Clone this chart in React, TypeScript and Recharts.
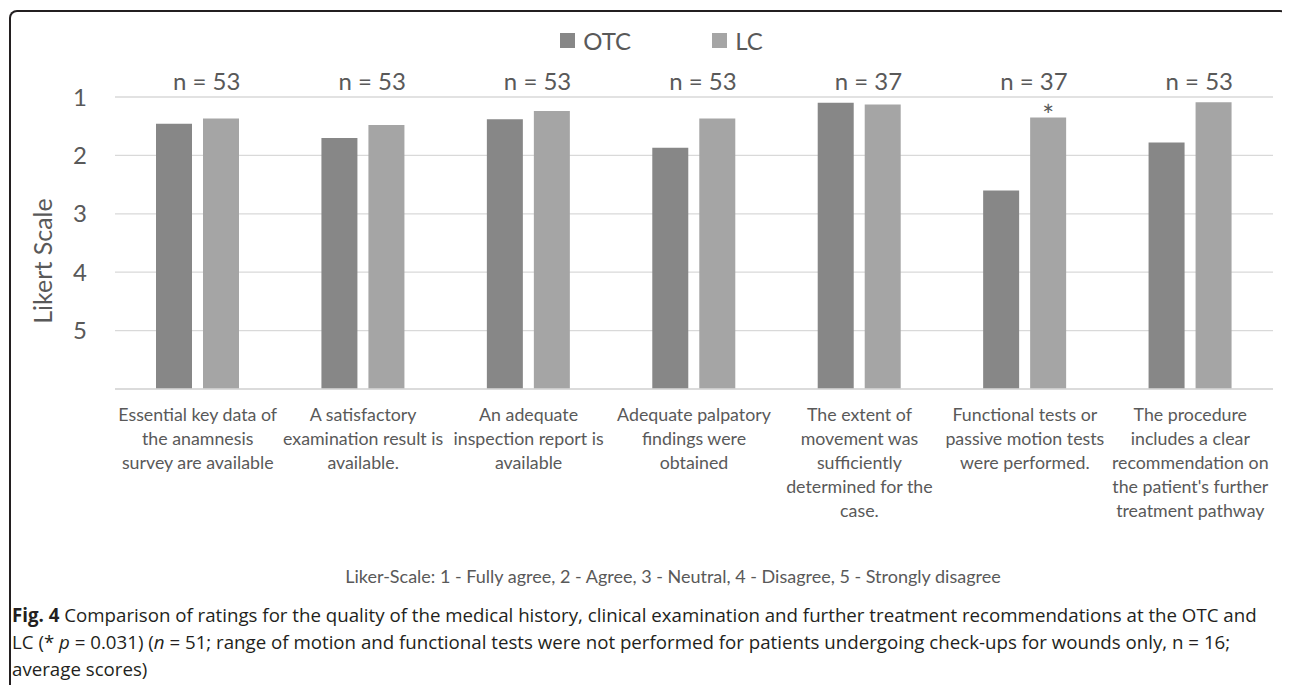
import React from 'react';
import { BarChart, Bar, XAxis, YAxis, CartesianGrid, Legend, LabelList } from 'recharts';

const categories = [
  'Essential key data of\nthe anamnesis\nsurvey are available',
  'A satisfactory\nexamination result is\navailable.',
  'An adequate\ninspection report is\navailable',
  'Adequate palpatory\nfindings were\nobtained',
  'The extent of\nmovement was\nsufficiently\ndetermined for the\ncase.',
  'Functional tests or\npassive motion tests\nwere performed.',
  "The procedure\nincludes a clear\nrecommendation on\nthe patient's further\ntreatment pathway",
];
const nLabels = ['n = 53', 'n = 53', 'n = 53', 'n = 53', 'n = 37', 'n = 37', 'n = 53'];
const otcScores = [1.46, 1.7, 1.38, 1.87, 1.1, 2.6, 1.78];
const lcScores = [1.37, 1.48, 1.24, 1.37, 1.13, 1.35, 1.09];
const sigMarks = ['', '', '', '', '', '*', ''];
const seriesNames = ['OTC', 'LC'];
const yTicks = [1, 2, 3, 4, 5];
const scaleBottom = 6;

const data = categories.map((name, i) => ({
  name,
  n: nLabels[i],
  otc: otcScores[i],
  lc: lcScores[i],
  sig: sigMarks[i],
}));

const FONT = 'Lato, "Open Sans", sans-serif';
const TEXT = '#595959';
const GRID = '#d9d9d9';

const XTick = (props: any) => {
  const { x, y, payload } = props;
  const lines = String(payload.value).split('\n');
  return (
    <text x={x} y={y + 31.5} textAnchor="middle" fontFamily={FONT} fontSize={17.8} fill={TEXT}>
      {lines.map((l, i) => (
        <tspan key={i} x={x} dy={i === 0 ? 0 : 24}>
          {l}
        </tspan>
      ))}
    </text>
  );
};

const NTick = (props: any) => {
  const { x, y, payload } = props;
  return (
    <text x={x + 9} y={y - 7} textAnchor="middle" fontFamily={FONT} fontSize={24} fill={TEXT}>
      {data[payload.index].n}
    </text>
  );
};

const YTitle = (props: any) => {
  const vb = props.viewBox || { x: 0, y: 89, width: 107, height: 292 };
  const cx = vb.x + 34;
  const cy = vb.y + vb.height / 2 + 18;
  return (
    <text
      x={cx}
      y={cy}
      transform={`rotate(-90, ${cx}, ${cy})`}
      textAnchor="middle"
      dominantBaseline="central"
      fontFamily={FONT}
      fontSize={25}
      fill={TEXT}
    >
      Likert Scale
    </text>
  );
};

const SigLabel = (props: any) => {
  const { x, y, width, value } = props;
  if (!value) return null;
  return (
    <text x={x + width / 2} y={y + 9} textAnchor="middle" fontFamily={FONT} fontSize={28} fill={TEXT}>
      {value}
    </text>
  );
};

const LegendContent = (props: any) => {
  const payload = [...(props.payload || [])].sort(
    (a: any, b: any) => seriesNames.indexOf(a.value) - seriesNames.indexOf(b.value)
  );
  return (
    <div
      style={{
        display: 'flex',
        justifyContent: 'center',
        alignItems: 'center',
        height: 30,
        paddingLeft: 25,
        fontFamily: FONT,
        fontSize: 24,
        color: TEXT,
      }}
    >
      {payload.map((p: any, i: number) => (
        <div key={p.value} style={{ display: 'flex', alignItems: 'center', marginLeft: i ? 81 : 0 }}>
          <span style={{ width: 15, height: 15, background: p.color, marginRight: 8, display: 'inline-block' }} />
          <span>{p.value}</span>
        </div>
      ))}
    </div>
  );
};

export default function App() {
  return (
    <div style={{ position: 'relative', width: 1282, height: 677, overflow: 'hidden', background: '#fff' }}>
      <div
        style={{
          position: 'absolute',
          left: 1,
          top: 2,
          width: 1279,
          height: 720,
          borderLeft: '2px solid #231f20',
          borderTop: '2px solid #231f20',
          borderRight: '2px solid #231f20',
          borderRadius: '8px 8px 0 0',
          boxSizing: 'border-box',
        }}
      />
      <div style={{ position: 'absolute', left: 0, top: 0 }}>
        <BarChart
          width={1282}
          height={600}
          data={data}
          margin={{ top: 49, right: 17, bottom: 69, left: 0 }}
          barSize={36}
          barGap={11}
        >
          <CartesianGrid xAxisId="bottom" vertical={false} stroke={GRID} strokeWidth={1.3} />
          <XAxis
            xAxisId="top"
            orientation="top"
            dataKey="name"
            height={40}
            axisLine={false}
            tickLine={false}
            tickSize={0}
            tickMargin={0}
            interval={0}
            tick={<NTick />}
          />
          <XAxis
            xAxisId="bottom"
            dataKey="name"
            height={150}
            axisLine={{ stroke: GRID, strokeWidth: 1.3 }}
            tickLine={false}
            tickSize={0}
            tickMargin={0}
            interval={0}
            tick={<XTick />}
          />
          <YAxis
            type="number"
            domain={[1, scaleBottom]}
            reversed
            ticks={yTicks}
            width={107}
            axisLine={false}
            tickLine={false}
            tickSize={0}
            tickMargin={28}
            tick={{ fontSize: 24, fill: TEXT, fontFamily: FONT }}
            label={<YTitle />}
          />
          <Legend
            verticalAlign="middle"
            itemSorter={null as any}
            wrapperStyle={{ top: 17, left: 0, width: 1282 }}
            content={<LegendContent />}
          />
          <Bar
            xAxisId="bottom"
            name={seriesNames[0]}
            dataKey={(d: any) => [scaleBottom, d.otc]}
            fill="#878787"
            isAnimationActive={false}
          />
          <Bar
            xAxisId="bottom"
            name={seriesNames[1]}
            dataKey={(d: any) => [scaleBottom, d.lc]}
            fill="#a5a5a5"
            isAnimationActive={false}
          >
            <LabelList dataKey="sig" content={<SigLabel />} />
          </Bar>
        </BarChart>
      </div>
      <div
        style={{
          position: 'absolute',
          left: 665,
          top: 556,
          transform: 'translateX(-50%)',
          whiteSpace: 'nowrap',
          fontFamily: FONT,
          fontSize: 18,
          lineHeight: '24px',
          color: TEXT,
        }}
      >
        Liker-Scale: 1 - Fully agree, 2 - Agree, 3 - Neutral, 4 - Disagree, 5 - Strongly disagree
      </div>
      <div
        style={{
          position: 'absolute',
          left: 4,
          top: 593,
          whiteSpace: 'nowrap',
          fontFamily: '"Open Sans", sans-serif',
          fontSize: 18.7,
          lineHeight: '27px',
          color: '#231f20',
        }}
      >
        <b>Fig. 4</b> Comparison of ratings for the quality of the medical history, clinical examination and further
        treatment recommendations at the OTC and
        <br />
        LC (* <i>p</i> = 0.031) (<i>n</i> = 51; range of motion and functional tests were not performed for patients
        undergoing check-ups for wounds only, n = 16;
        <br />
        average scores)
      </div>
    </div>
  );
}
